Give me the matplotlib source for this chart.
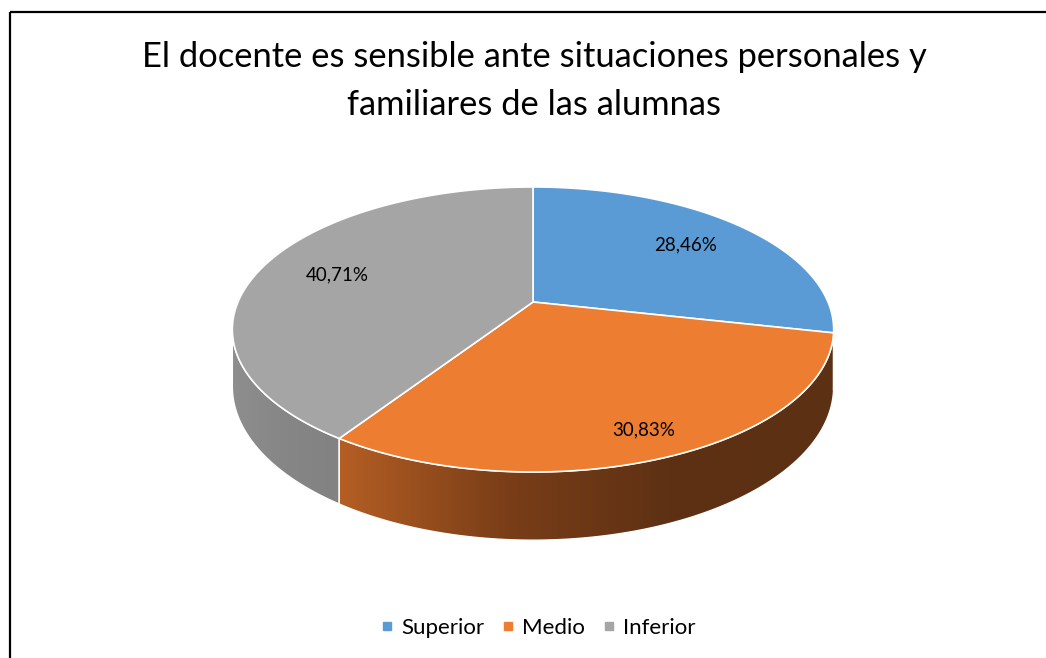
import numpy as np
import matplotlib
matplotlib.use("Agg")
import matplotlib.pyplot as plt
from matplotlib.patches import Polygon, Rectangle
from matplotlib.lines import Line2D
from matplotlib.colors import LinearSegmentedColormap

# data
categories = ["Superior", "Medio", "Inferior"]
values = [28.46, 30.83, 40.71]
value_labels = ["28,46%", "30,83%", "40,71%"]
title = "El docente es sensible ante situaciones personales y\nfamiliares de las alumnas"

# style
top_colors = ["#5B9BD5", "#ED7D31", "#A5A5A5"]
side_stops = [["#3F7AB0", "#2E5C88"],
              ["#B45E24", "#7A3E18", "#5E3114", "#5C3013"],
              ["#8E8E8E", "#868686", "#828282"]]
label_r = [0.72, 0.85, 0.72]
FONT = ["Lato", "DejaVu Sans"]

# projection of the tilted disk (pixel space)
cx, cy = 533, 302
B, A, k = 295, 137.2, 0.193
H0 = 55


def proj(r, th):
    u = r * np.sin(th)
    v = r * np.cos(th)
    d = 1 + k * v
    return cx + B * u / d, cy - A * v / d


def thick(th):
    return H0 / (1 + k * np.cos(th))


fig = plt.figure(figsize=(10.46, 6.58), dpi=100)
ax = fig.add_axes([0, 0, 1, 1])
ax.set_xlim(0, 1046)
ax.set_ylim(658, 0)
ax.axis("off")

# chart border
ax.add_patch(Rectangle((9.5, 11.5), 1100, 700, fill=False, ec="black", lw=1.6))

fr = np.array(values) / sum(values)
starts = np.concatenate([[0], np.cumsum(fr)[:-1]]) * 2 * np.pi
ends = np.cumsum(fr) * 2 * np.pi
vis_a = np.pi / 2 + np.arcsin(k)
vis_b = 3 * np.pi / 2 - np.arcsin(k)

# side walls
for i in range(len(values)):
    a = max(starts[i], vis_a)
    b = min(ends[i], vis_b)
    if b <= a:
        continue
    th = np.linspace(a, b, 200)
    xt, yt = proj(1, th)
    yb = yt + thick(th)
    pts = np.vstack([np.column_stack([xt, yt]), np.column_stack([xt[::-1], yb[::-1]])])
    poly = Polygon(pts, closed=True, fc="none", ec="white", lw=1.0, zorder=3)
    ax.add_patch(poly)
    cmap = LinearSegmentedColormap.from_list("s%d" % i, side_stops[i])
    x0, x1 = xt.min(), xt.max()
    grad = np.linspace(0, 1, 256)[None, :]
    im = ax.imshow(grad, cmap=cmap, aspect="auto", extent=(x0, x1, yb.max() + 2, yt.min() - 2),
                   zorder=2, interpolation="bilinear")
    im.set_clip_path(poly)

ax.set_xlim(0, 1046)
ax.set_ylim(658, 0)

# top faces
for i in range(len(values)):
    th = np.linspace(starts[i], ends[i], 200)
    xt, yt = proj(1, th)
    pts = np.vstack([[cx, cy], np.column_stack([xt, yt])])
    ax.add_patch(Polygon(pts, closed=True, fc=top_colors[i], ec="white", lw=1.2, zorder=4))

# data labels
for i in range(len(values)):
    mid = (starts[i] + ends[i]) / 2
    lx, ly = proj(label_r[i], mid)
    ax.text(lx, ly, value_labels[i], ha="center", va="center", fontsize=13.5,
            family=FONT, color="black", zorder=5)

ax.text(534, 81, title, ha="center", va="center", fontsize=24.8, family=FONT,
        linespacing=1.6, color="black")

handles = [Line2D([], [], marker="s", ls="none", ms=6, color=c) for c in top_colors]
ax.legend(handles, categories, loc="center", bbox_to_anchor=(538 / 1046, 1 - 628 / 658),
          ncol=3, frameon=False, prop={"family": FONT, "size": 16},
          handletextpad=0.35, columnspacing=0.75, handlelength=0.6)

fig.savefig("out.png", dpi=100, facecolor="white")
